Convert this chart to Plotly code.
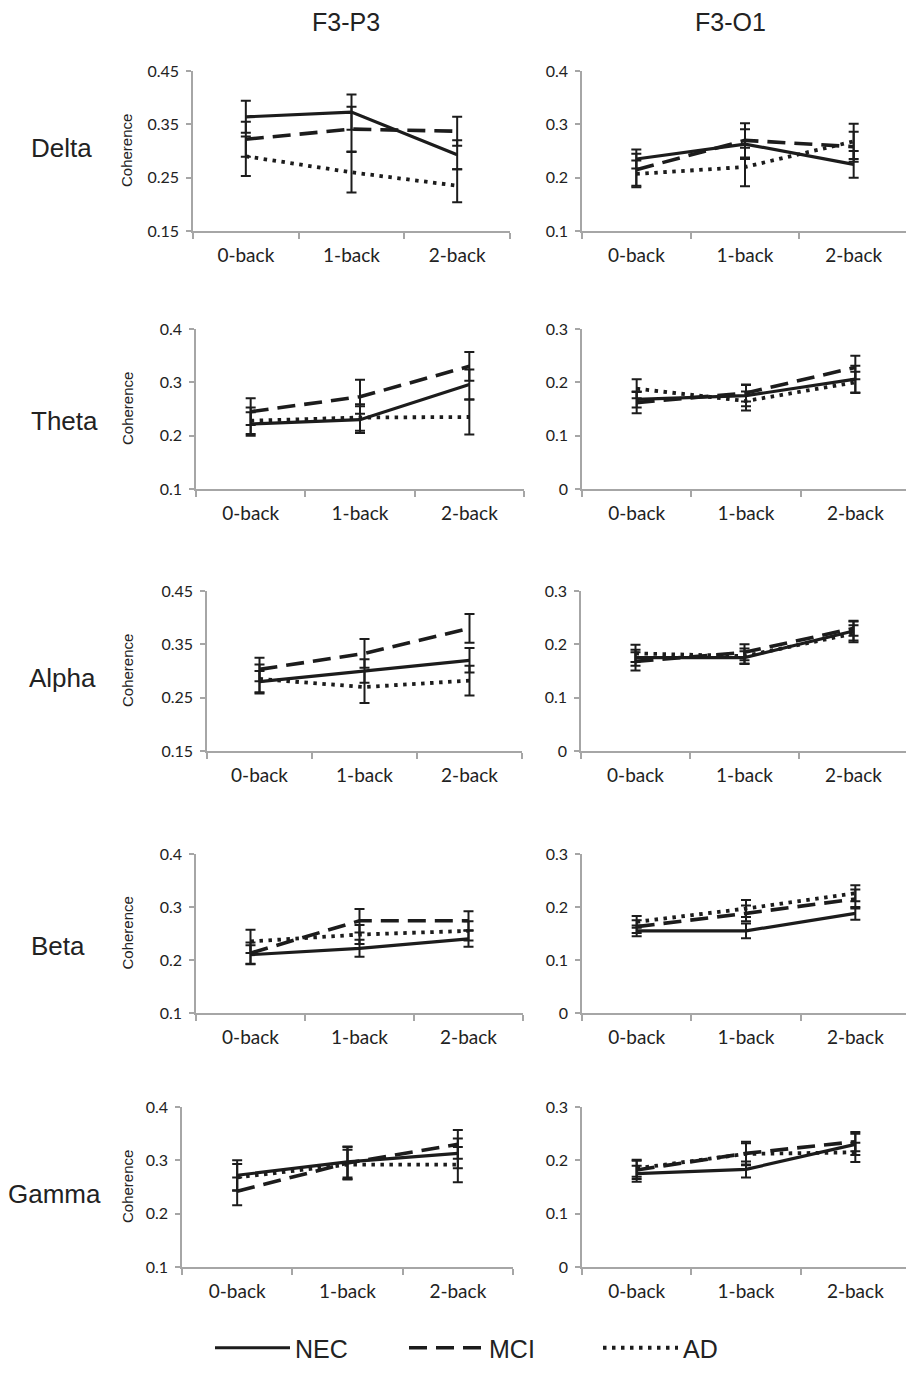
import plotly.graph_objects as go

# The page adds an 8px body margin; the figure is sized/offset to fit the 914x1373 window.
PAGE_W, PAGE_H, OFF = 914, 1373, 8
W, H = PAGE_W - OFF, PAGE_H - OFF

categories = ["0-back", "1-back", "2-back"]
groups = ["NEC", "MCI", "AD"]
bands = ["Delta", "Theta", "Alpha", "Beta", "Gamma"]
sites = ["F3-P3", "F3-O1"]

# ---- values (mean coherence) and error bars ----
delta_p3_nec = [0.364, 0.373, 0.293]; delta_p3_nec_err = [0.030, 0.033, 0.027]
delta_p3_mci = [0.322, 0.341, 0.337]; delta_p3_mci_err = [0.033, 0.042, 0.027]
delta_p3_ad = [0.290, 0.260, 0.235];  delta_p3_ad_err = [0.037, 0.038, 0.031]

delta_o1_nec = [0.235, 0.263, 0.225]; delta_o1_nec_err = [0.018, 0.028, 0.025]
delta_o1_mci = [0.215, 0.270, 0.258]; delta_o1_mci_err = [0.030, 0.032, 0.028]
delta_o1_ad = [0.207, 0.220, 0.268];  delta_o1_ad_err = [0.025, 0.036, 0.033]

theta_p3_nec = [0.222, 0.230, 0.296]; theta_p3_nec_err = [0.022, 0.025, 0.028]
theta_p3_mci = [0.245, 0.273, 0.330]; theta_p3_mci_err = [0.025, 0.032, 0.027]
theta_p3_ad = [0.228, 0.234, 0.235];  theta_p3_ad_err = [0.025, 0.025, 0.033]

theta_o1_nec = [0.168, 0.175, 0.206]; theta_o1_nec_err = [0.015, 0.020, 0.025]
theta_o1_mci = [0.162, 0.180, 0.228]; theta_o1_mci_err = [0.020, 0.016, 0.022]
theta_o1_ad = [0.188, 0.165, 0.200];  theta_o1_ad_err = [0.018, 0.018, 0.020]

alpha_p3_nec = [0.280, 0.300, 0.320]; alpha_p3_nec_err = [0.020, 0.022, 0.023]
alpha_p3_mci = [0.303, 0.333, 0.380]; alpha_p3_mci_err = [0.022, 0.027, 0.027]
alpha_p3_ad = [0.285, 0.270, 0.282];  alpha_p3_ad_err = [0.027, 0.030, 0.028]

alpha_o1_nec = [0.175, 0.175, 0.225]; alpha_o1_nec_err = [0.015, 0.012, 0.018]
alpha_o1_mci = [0.168, 0.185, 0.230]; alpha_o1_mci_err = [0.017, 0.015, 0.014]
alpha_o1_ad = [0.183, 0.178, 0.220];  alpha_o1_ad_err = [0.016, 0.014, 0.016]

beta_p3_nec = [0.210, 0.222, 0.240]; beta_p3_nec_err = [0.018, 0.016, 0.015]
beta_p3_mci = [0.213, 0.274, 0.274]; beta_p3_mci_err = [0.020, 0.022, 0.018]
beta_p3_ad = [0.235, 0.248, 0.255];  beta_p3_ad_err = [0.022, 0.018, 0.018]

beta_o1_nec = [0.155, 0.155, 0.188]; beta_o1_nec_err = [0.010, 0.014, 0.012]
beta_o1_mci = [0.163, 0.188, 0.215]; beta_o1_mci_err = [0.012, 0.015, 0.018]
beta_o1_ad = [0.172, 0.197, 0.226];  beta_o1_ad_err = [0.011, 0.016, 0.015]

gamma_p3_nec = [0.272, 0.297, 0.313]; gamma_p3_nec_err = [0.028, 0.029, 0.028]
gamma_p3_mci = [0.242, 0.295, 0.330]; gamma_p3_mci_err = [0.026, 0.030, 0.027]
gamma_p3_ad = [0.268, 0.292, 0.292];  gamma_p3_ad_err = [0.025, 0.028, 0.033]

gamma_o1_nec = [0.175, 0.183, 0.230]; gamma_o1_nec_err = [0.015, 0.015, 0.020]
gamma_o1_mci = [0.182, 0.213, 0.235]; gamma_o1_mci_err = [0.017, 0.022, 0.018]
gamma_o1_ad = [0.185, 0.212, 0.215];  gamma_o1_ad_err = [0.016, 0.020, 0.018]

# y-axis ticks per panel (row, col)
yticks_p3 = [[0.15, 0.25, 0.35, 0.45], [0.1, 0.2, 0.3, 0.4], [0.15, 0.25, 0.35, 0.45],
             [0.1, 0.2, 0.3, 0.4], [0.1, 0.2, 0.3, 0.4]]
yticks_o1 = [[0.1, 0.2, 0.3, 0.4], [0, 0.1, 0.2, 0.3], [0, 0.1, 0.2, 0.3],
             [0, 0.1, 0.2, 0.3], [0, 0.1, 0.2, 0.3]]

panel_data = {
    (0, 0): [(delta_p3_nec, delta_p3_nec_err), (delta_p3_mci, delta_p3_mci_err), (delta_p3_ad, delta_p3_ad_err)],
    (0, 1): [(delta_o1_nec, delta_o1_nec_err), (delta_o1_mci, delta_o1_mci_err), (delta_o1_ad, delta_o1_ad_err)],
    (1, 0): [(theta_p3_nec, theta_p3_nec_err), (theta_p3_mci, theta_p3_mci_err), (theta_p3_ad, theta_p3_ad_err)],
    (1, 1): [(theta_o1_nec, theta_o1_nec_err), (theta_o1_mci, theta_o1_mci_err), (theta_o1_ad, theta_o1_ad_err)],
    (2, 0): [(alpha_p3_nec, alpha_p3_nec_err), (alpha_p3_mci, alpha_p3_mci_err), (alpha_p3_ad, alpha_p3_ad_err)],
    (2, 1): [(alpha_o1_nec, alpha_o1_nec_err), (alpha_o1_mci, alpha_o1_mci_err), (alpha_o1_ad, alpha_o1_ad_err)],
    (3, 0): [(beta_p3_nec, beta_p3_nec_err), (beta_p3_mci, beta_p3_mci_err), (beta_p3_ad, beta_p3_ad_err)],
    (3, 1): [(beta_o1_nec, beta_o1_nec_err), (beta_o1_mci, beta_o1_mci_err), (beta_o1_ad, beta_o1_ad_err)],
    (4, 0): [(gamma_p3_nec, gamma_p3_nec_err), (gamma_p3_mci, gamma_p3_mci_err), (gamma_p3_ad, gamma_p3_ad_err)],
    (4, 1): [(gamma_o1_nec, gamma_o1_nec_err), (gamma_o1_mci, gamma_o1_mci_err), (gamma_o1_ad, gamma_o1_ad_err)],
}

# ---- layout geometry (page pixels) ----
col_x = {
    0: [(193, 510), (196, 524), (207, 522), (196, 523), (182, 513)],
    1: [(582, 908), (582, 910), (581, 908), (582, 910), (582, 910)],
}
row_y = [(71, 231), (329, 489), (591, 751), (854, 1013), (1107, 1267)]
row_label_pos = [(61, 148), (64, 421), (62, 678), (58, 946), (54, 1194)]
title_pos = [(346, 22), (730, 22)]


def fx(px):
    return (px - OFF) / W


def fy(py):
    return 1 - (py - OFF) / H


LINE = "#1c1c1c"
AXC = "#a6a6a6"
TICKFONT = "Lato"
TXTFONT = "Liberation Sans, Arial, sans-serif"

styles = [
    dict(dash="solid", width=3.2),
    dict(dash="18px,9px", width=3.6),
    dict(dash="3.5px,5.5px", width=3.8),
]

fig = go.Figure()

for r in range(5):
    for c in range(2):
        idx = r * 2 + c + 1
        xa = "x" if idx == 1 else f"x{idx}"
        ya = "y" if idx == 1 else f"y{idx}"
        for g, (vals, errs) in enumerate(panel_data[(r, c)]):
            fig.add_trace(go.Scatter(
                x=categories, y=vals, xaxis=xa, yaxis=ya,
                mode="lines", name=groups[g], legendgroup=groups[g],
                showlegend=(idx == 1),
                line=dict(color=LINE, **styles[g]),
                error_y=dict(type="data", array=errs, visible=True,
                             color=LINE, thickness=2, width=5),
            ))
        x0, x1 = col_x[c][r]
        y0, y1 = row_y[r]
        ticks = yticks_p3[r] if c == 0 else yticks_o1[r]
        fig.layout[f"xaxis{'' if idx == 1 else idx}"] = dict(
            domain=[fx(x0), fx(x1)], anchor=ya, type="category",
            range=[-0.5, 2.5], tickson="boundaries", ticks="outside",
            ticklen=6, tickwidth=1.5, tickcolor=AXC, showline=True,
            linecolor=AXC, linewidth=1.5, showgrid=False, zeroline=False,
            tickfont=dict(family=TICKFONT, size=19, color="#222"),
            ticklabelstandoff=6, fixedrange=True, automargin=False,
        )
        fig.layout[f"yaxis{'' if idx == 1 else idx}"] = dict(
            domain=[fy(y1), fy(y0)], anchor=xa,
            range=[ticks[0], ticks[-1]], tickvals=ticks,
            ticktext=[("0" if t == 0 else f"{t:g}") for t in ticks],
            ticks="outside", ticklen=5, tickwidth=1.5, tickcolor=AXC,
            showline=True, linecolor=AXC, linewidth=1.5, showgrid=False,
            zeroline=False, tickfont=dict(family=TICKFONT, size=16, color="#222"),
            ticklabelstandoff=4, fixedrange=True, automargin=False,
        )

annotations = []
for i, s in enumerate(sites):
    x, y = title_pos[i]
    annotations.append(dict(text=s, x=fx(x), y=fy(y), xref="paper", yref="paper",
                            showarrow=False, xanchor="center", yanchor="middle",
                            font=dict(family=TXTFONT, size=25, color="#222")))
for r, b in enumerate(bands):
    x, y = row_label_pos[r]
    annotations.append(dict(text=b, x=fx(x), y=fy(y), xref="paper", yref="paper",
                            showarrow=False, xanchor="center", yanchor="middle",
                            font=dict(family=TXTFONT, size=26, color="#222")))
    y0, y1 = row_y[r]
    annotations.append(dict(text="Coherence", x=fx(127), y=fy((y0 + y1) / 2),
                            xref="paper", yref="paper", showarrow=False, textangle=-90,
                            xanchor="center", yanchor="middle",
                            font=dict(family=TXTFONT, size=15, color="#222")))

fig.update_layout(
    width=W, height=H, margin=dict(l=0, r=0, t=0, b=0, autoexpand=False),
    paper_bgcolor="white", plot_bgcolor="white",
    annotations=annotations,
    showlegend=True,
    legend=dict(orientation="h", x=fx(210), y=fy(1348), xanchor="left", yanchor="middle",
                entrywidth=104, entrywidthmode="pixels", itemwidth=75,
                font=dict(family=TXTFONT, size=25, color="#222"),
                bgcolor="rgba(0,0,0,0)"),
)

fig.write_html("out.html")
